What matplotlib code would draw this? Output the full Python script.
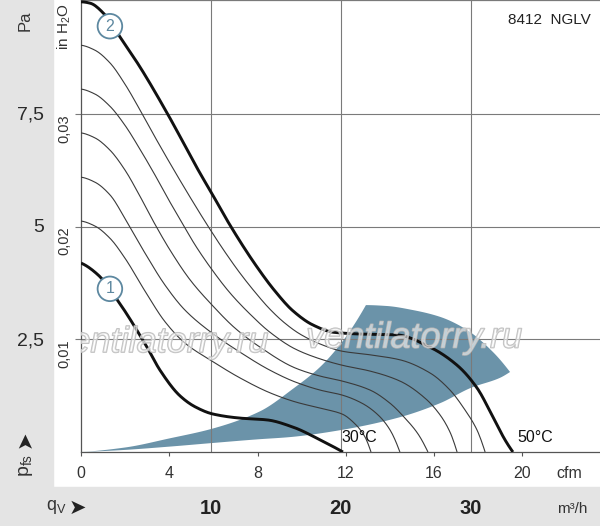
"""
Fan curve chart 8412 NGLV: static pressure vs. air flow
"""

import numpy as np
import matplotlib
matplotlib.use('Agg')
import matplotlib.pyplot as plt
from matplotlib import patheffects
from matplotlib.patches import Rectangle

W, H = 600, 526

# ---- data (flow in cfm, pressure in Pa) ----
curve1_cfm = [0, 0.77, 1.68, 2.99, 3.58, 4.49, 5.17, 5.98, 7.20, 8.43, 9.61, 10.83, 11.87]
curve1_pa = [4.18, 3.92, 3.34, 2.32, 1.81, 1.24, 1.00, 0.84, 0.75, 0.71, 0.55, 0.27, 0.0]

curve2_cfm = [0, 0.41, 1.09, 1.77, 2.67, 3.90, 5.39, 5.94, 6.75, 7.88, 8.79, 9.61,
              10.51, 11.42, 12.64, 14.32, 15.81, 17.04, 17.94, 18.67, 19.21, 19.57]
curve2_pa = [9.96, 9.93, 9.67, 9.18, 8.52, 7.50, 6.17, 5.71, 5.02, 4.16, 3.56, 3.12,
             2.81, 2.65, 2.61, 2.59, 2.32, 1.92, 1.42, 0.77, 0.27, 0.0]

# intermediate speed curves, lowest (a) to highest (e)
thin_a_cfm = [0, 0.63, 1.31, 1.99, 2.90, 3.81, 4.71, 5.94, 7.20, 8.56, 9.70, 10.83,
              11.83, 12.42, 12.87, 13.14]
thin_a_pa = [5.11, 5.00, 4.73, 4.29, 3.56, 2.88, 2.41, 2.01, 1.64, 1.31, 1.11, 0.97,
             0.84, 0.62, 0.33, 0.0]

thin_b_cfm = [0, 0.63, 1.31, 2.08, 2.90, 3.81, 4.71, 5.94, 7.20, 8.56, 9.70, 10.83,
              11.83, 12.73, 13.46, 14.00, 14.45]
thin_b_pa = [6.08, 5.97, 5.69, 5.09, 4.40, 3.69, 3.14, 2.63, 2.21, 1.81, 1.55, 1.37,
             1.26, 1.08, 0.82, 0.49, 0.0]

thin_c_cfm = [0, 0.63, 1.31, 1.99, 2.67, 3.35, 4.03, 4.94, 5.94, 6.98, 8.11, 9.70,
              10.83, 11.83, 13.10, 14.00, 14.68, 15.27, 15.72]
thin_c_pa = [7.06, 6.95, 6.68, 6.24, 5.66, 5.04, 4.47, 3.81, 3.25, 2.74, 2.32, 1.86,
             1.68, 1.57, 1.37, 1.08, 0.75, 0.40, 0.0]

thin_d_cfm = [0, 0.63, 1.31, 1.99, 2.67, 3.35, 4.03, 4.58, 5.17, 5.94, 6.75, 7.66,
              8.56, 9.70, 10.83, 11.83, 13.10, 14.45, 15.59, 16.27, 16.72, 17.04]
thin_d_pa = [8.03, 7.92, 7.65, 7.23, 6.70, 6.13, 5.53, 5.07, 4.58, 4.03, 3.52, 3.05,
             2.65, 2.28, 2.06, 1.92, 1.79, 1.57, 1.19, 0.82, 0.44, 0.0]

thin_e_cfm = [0, 0.63, 1.31, 1.99, 2.67, 3.35, 4.03, 4.94, 5.75, 6.53, 7.20, 7.88,
              8.56, 9.24, 9.92, 10.83, 11.83, 13.10, 14.45, 15.81, 16.72, 17.40,
              17.94, 18.31]
thin_e_pa = [9.00, 8.89, 8.61, 8.14, 7.57, 6.97, 6.39, 5.64, 5.00, 4.42, 3.96, 3.54,
             3.16, 2.85, 2.61, 2.39, 2.23, 2.15, 2.04, 1.75, 1.37, 0.93, 0.49, 0.0]

# shaded operating band: upper-left edge, top arc, lower edge
band_up_cfm = [0, 2.0, 4.0, 5.98, 8.11, 9.61, 10.83, 11.87, 12.91]
band_up_pa = [0, 0.10, 0.30, 0.52, 0.90, 1.40, 1.88, 2.46, 3.25]
band_arc_cfm = [12.91, 13.86, 15.04, 16.27, 17.49, 18.67, 19.44]
band_arc_pa = [3.25, 3.23, 3.14, 2.99, 2.70, 2.21, 1.77]
band_low_cfm = [0, 1.77, 4.03, 5.98, 8.0, 9.47, 11.83, 14.45, 16.27, 17.67, 18.98, 19.44]
band_low_pa = [0, 0.04, 0.12, 0.20, 0.28, 0.33, 0.49, 0.77, 1.08, 1.42, 1.64, 1.77]

# axis ticks
cfm_ticks = [0, 4, 8, 12, 16, 20]
m3h_ticks = [10, 20, 30]
pa_ticks = [2.5, 5, 7.5]
pa_labels = ['2,5', '5', '7,5']
inh2o_ticks = [0.01, 0.02, 0.03]
inh2o_labels = ['0,01', '0,02', '0,03']

CFM_TO_M3H = 1.699
INH2O_TO_PA = 249.089

plt.rcParams['font.family'] = ['Liberation Sans', 'DejaVu Sans']
plt.rcParams['mathtext.fontset'] = 'custom'
plt.rcParams['mathtext.rm'] = 'Liberation Sans'
plt.rcParams['mathtext.it'] = 'Liberation Sans:italic'

TXT = '#333333'
BLUE = '#6b93a9'
RING = '#5d88a0'
GRID = '#7a7a7a'


def pchip(x, y, n=300):
    """Shape preserving cubic through the read points, for smooth drawing"""
    x = np.asarray(x, float)
    y = np.asarray(y, float)
    h = np.diff(x)
    d = np.diff(y) / h
    m = np.zeros_like(x)
    for k in range(1, len(x) - 1):
        if d[k - 1] * d[k] > 0:
            w1 = 2 * h[k] + h[k - 1]
            w2 = h[k] + 2 * h[k - 1]
            m[k] = (w1 + w2) / (w1 / d[k - 1] + w2 / d[k])
    for i, (h0, h1, d0, d1) in ((0, (h[0], h[1], d[0], d[1])),
                                (-1, (h[-1], h[-2], d[-1], d[-2]))):
        e = ((2 * h0 + h1) * d0 - h0 * d1) / (h0 + h1)
        if np.sign(e) != np.sign(d0):
            e = 0.0
        elif np.sign(d0) != np.sign(d1) and abs(e) > 3 * abs(d0):
            e = 3 * d0
        m[i] = e
    xs = np.linspace(x[0], x[-1], n)
    idx = np.clip(np.searchsorted(x, xs) - 1, 0, len(h) - 1)
    t = (xs - x[idx]) / h[idx]
    h00 = 2 * t**3 - 3 * t**2 + 1
    h10 = t**3 - 2 * t**2 + t
    h01 = -2 * t**3 + 3 * t**2
    h11 = t**3 - t**2
    ys = h00 * y[idx] + h10 * h[idx] * m[idx] + h01 * y[idx + 1] + h11 * h[idx] * m[idx + 1]
    return xs, ys


def fxy(px, py):
    """pixel position in the 600x526 picture -> figure fraction"""
    return px / W, 1 - py / H


fig = plt.figure(figsize=(W / 100, H / 100), dpi=100)

# grey frame on the left and at the bottom (behind the axes)
fig.patches.append(Rectangle((0, 0), 53 / W, 1, transform=fig.transFigure,
                             color='#e4e4e4', zorder=-1))
fig.patches.append(Rectangle((0, 0), 1, (H - 487) / H, transform=fig.transFigure,
                             color='#e4e4e4', zorder=-1))

ax = fig.add_axes([81 / W, (H - 452) / H, (W - 81) / W, 452 / H])
ax.set_xlim(0, (W - 81) / 22.07)
ax.set_ylim(0, 10)
ax.patch.set_alpha(0)

# band
ux, uy = pchip(band_up_cfm, band_up_pa)
rx, ry = pchip(band_arc_cfm, band_arc_pa)
lx, ly = pchip(band_low_cfm, band_low_pa)
ax.fill(np.concatenate([ux, rx, lx[::-1]]), np.concatenate([uy, ry, ly[::-1]]),
        color=BLUE, lw=0, zorder=1)

# grid
for v in m3h_ticks:
    ax.axvline(v / CFM_TO_M3H, color=GRID, lw=0.8, zorder=2)
for v in inh2o_ticks:
    ax.axhline(v * INH2O_TO_PA, color=GRID, lw=0.8, zorder=2)

# fan curves
for cx, cy in [(thin_a_cfm, thin_a_pa), (thin_b_cfm, thin_b_pa), (thin_c_cfm, thin_c_pa),
               (thin_d_cfm, thin_d_pa), (thin_e_cfm, thin_e_pa)]:
    xs, ys = pchip(cx, cy)
    ax.plot(xs, ys, color='#3a3a3a', lw=0.8, zorder=3, solid_capstyle='butt')
for cx, cy in [(curve1_cfm, curve1_pa), (curve2_cfm, curve2_pa)]:
    xs, ys = pchip(cx, cy)
    ax.plot(xs, ys, color='#111111', lw=2.1, zorder=4, solid_capstyle='butt')

# numbered rings on the two limit curves
ring = dict(boxstyle='circle,pad=0.3', fc='white', ec=RING, lw=1.3)
ax.text(1.31, 9.42, '2', ha='center', va='center', fontsize=11.5,
        color=RING, bbox=ring, zorder=6)
ax.text(1.31, 3.61, '1', ha='center', va='center', fontsize=11.5,
        color=RING, bbox=ring, zorder=6)

ax.text(curve1_cfm[-1] - 0.05, 0.15, '30°C', fontsize=11.5, color='#111', va='bottom',
        ha='left', zorder=6)
ax.text(curve2_cfm[-1] + 0.2, 0.15, '50°C', fontsize=11.5, color='#111', va='bottom',
        ha='left', zorder=6)

# watermark, clipped to the plot
wm = [patheffects.Stroke(linewidth=1.1, foreground=(0.72, 0.72, 0.72, 0.9)),
      patheffects.Normal()]
for cx, cy in [(3.6, 2.42), (15.1, 2.52)]:
    ax.text(cx, cy, 'ventilatorry.ru', ha='center', va='center', fontsize=26,
            style='italic', color=(1, 1, 1, 0.35), path_effects=wm, zorder=7,
            clip_on=True)

# spines and ticks
ax.spines['right'].set_visible(False)
ax.spines['top'].set_color(GRID)
ax.spines['left'].set_color('#555555')
ax.spines['bottom'].set_color('#555555')
for s in ('top', 'left', 'bottom'):
    ax.spines[s].set_linewidth(0.9)

ax.set_xticks(cfm_ticks)
ax.set_xticklabels([str(v) for v in cfm_ticks])
ax.tick_params(axis='x', direction='out', length=3, width=0.8, color='#555555',
               labelsize=11.5, labelcolor=TXT, pad=7)

ax.set_yticks([v * INH2O_TO_PA for v in inh2o_ticks])
ax.set_yticklabels(inh2o_labels)
ax.tick_params(axis='y', direction='out', length=4, width=0.8, color=GRID,
               labelsize=10.5, labelcolor=TXT, pad=3)
for lab in ax.get_yticklabels():
    lab.set_rotation(90)
    lab.set_va('top')

# Pa scale in the grey strip
secy = ax.secondary_yaxis((44 - 81) / (W - 81))
secy.set_yticks(pa_ticks)
secy.set_yticklabels(pa_labels)
secy.tick_params(length=0, pad=0, labelsize=14, labelcolor='#2a2a2a')
secy.spines['left'].set_visible(False)
secy.spines['right'].set_visible(False)

# m3/h scale in the grey band
secx = ax.secondary_xaxis((452 - 499) / 452,
                          functions=(lambda c: c * CFM_TO_M3H, lambda m: m / CFM_TO_M3H))
secx.set_xticks(m3h_ticks)
secx.set_xticklabels([str(v) for v in m3h_ticks])
secx.tick_params(length=0, pad=0, labelsize=14.5, labelcolor='#222222')
secx.spines['bottom'].set_visible(False)
secx.spines['top'].set_visible(False)
for lab in secx.get_xticklabels():
    lab.set_fontweight('bold')

# axis titles and units
fig.text(*fxy(25, 21), 'Pa', rotation=90, ha='center', va='center', fontsize=12,
         color=TXT)
fig.text(*fxy(64, 3), 'in H$_2$O', rotation=90, ha='center', va='top', fontsize=11,
         color=TXT)
fig.text(*fxy(25, 439), '➤', rotation=90, ha='center', va='center', fontsize=15,
         color='#222222', family='DejaVu Sans')
fig.text(*fxy(26, 465), 'p$_{\\mathrm{fs}}$', rotation=90, ha='center', va='center',
         fontsize=14, color=TXT)
fig.text(*fxy(56, 507), 'q$_{\\mathrm{V}}$', ha='center', va='center', fontsize=13,
         color=TXT)
fig.text(*fxy(77, 508), '➤', ha='center', va='center', fontsize=15, color='#222222',
         family='DejaVu Sans')
fig.text(*fxy(569, 474), 'cfm', ha='center', va='center', fontsize=11.5, color=TXT)
fig.text(*fxy(572, 509), 'm³/h', ha='center', va='center', fontsize=11, color=TXT)
fig.text(*fxy(549, 20), '8412  NGLV', ha='center', va='center', fontsize=11,
         color='#222222')

fig.savefig('out.png', dpi=100)
